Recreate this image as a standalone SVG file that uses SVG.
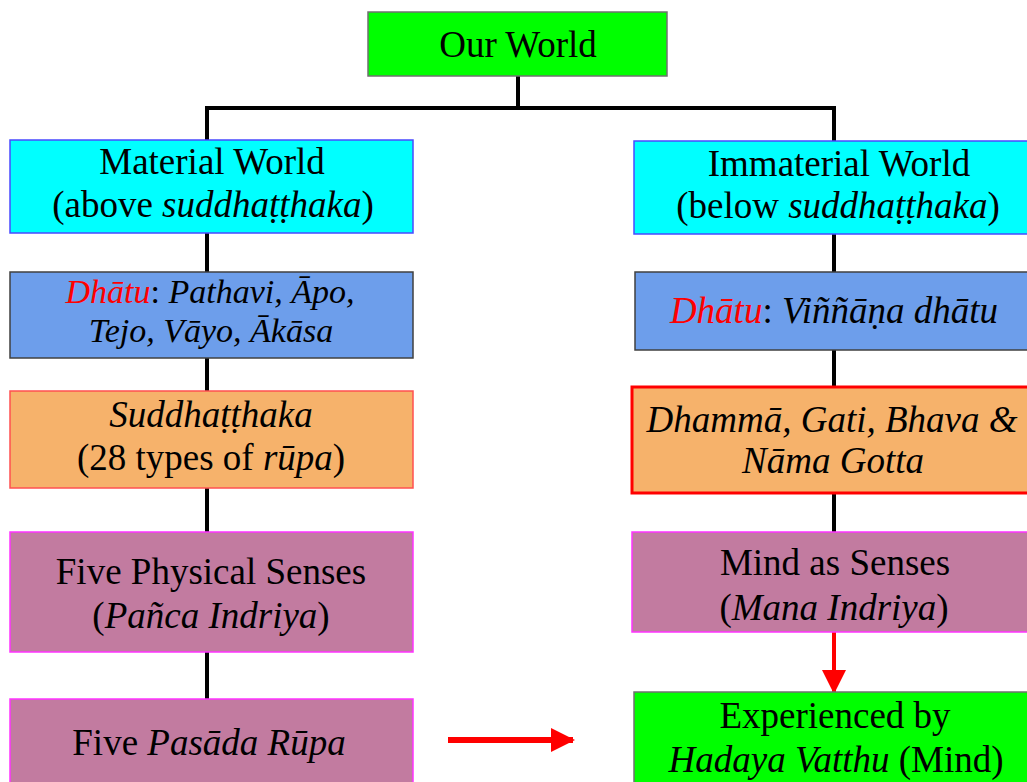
<svg xmlns="http://www.w3.org/2000/svg" width="1027" height="782" viewBox="0 0 1027 782">
<style>
text{font-family:"Liberation Serif","Times New Roman",Times,Tinos,"Noto Serif","DejaVu Serif",FreeSerif,serif;font-size:37px;fill:#000;text-anchor:middle}
.i{font-style:italic}
.r{fill:#ff0000}
.green{fill:#00ff00;stroke:#707070;stroke-width:1.5}
.cyan{fill:#00ffff;stroke:#4a4aff;stroke-width:1.5}
.blue{fill:#6d9eeb;stroke:#404040;stroke-width:1.5}
.orange{fill:#f6b26b;stroke:#ff5050;stroke-width:1.5}
.orange2{fill:#f6b26b;stroke:#ff0000;stroke-width:3}
.mauve{fill:#c27ba0;stroke:#ff33ff;stroke-width:1.5}
.conn{stroke:#000;stroke-width:4;fill:none}
.red{stroke:#ff0000;fill:none}
.tight{font-size:34px}
</style>
<defs>
<marker id="ah" markerUnits="userSpaceOnUse" markerWidth="24" markerHeight="24" refX="22" refY="12" orient="auto">
<path d="M0,0 L24,12 L0,24 Z" fill="#ff0000"/>
</marker>
</defs>
<g id="connectors">
<path class="conn" d="M207,140 V108 H834 V141" stroke-linejoin="miter"/>
<line class="conn" x1="518" y1="76" x2="518" y2="108"/>
<line class="conn" x1="207" y1="233" x2="207" y2="272"/>
<line class="conn" x1="207" y1="358" x2="207" y2="391"/>
<line class="conn" x1="207" y1="488" x2="207" y2="532"/>
<line class="conn" x1="207" y1="652" x2="207" y2="699"/>
<line class="conn" x1="834" y1="234" x2="834" y2="272"/>
<line class="conn" x1="834" y1="350" x2="834" y2="387"/>
<line class="conn" x1="834" y1="493" x2="834" y2="532"/>
<line class="red" stroke-width="4" x1="834" y1="632" x2="834" y2="692" marker-end="url(#ah)"/>
<line class="red" stroke-width="6" x1="448" y1="740" x2="573" y2="740" marker-end="url(#ah)"/>
</g>
<g id="our-world">
<rect class="green" x="368" y="12" width="299" height="64"/>
<text x="518" y="57">Our World</text>
</g>
<g id="material-world">
<rect class="cyan" x="10" y="140" width="403" height="93"/>
<text x="212" y="174">Material World</text>
<text x="213" y="217">(above <tspan class="i">suddhaṭṭhaka</tspan>)</text>
</g>
<g id="immaterial-world">
<rect class="cyan" x="634" y="141" width="400" height="93"/>
<text x="839" y="176">Immaterial World</text>
<text x="838" y="218">(below <tspan class="i">suddhaṭṭhaka</tspan>)</text>
</g>
<g id="dhatu-left">
<rect class="blue" x="10" y="272" width="403" height="86"/>
<text class="tight" x="210" y="303"><tspan class="i r">Dhātu</tspan>: <tspan class="i">Pathavi, Āpo,</tspan></text>
<text class="i tight" x="211" y="342">Tejo, Vāyo, Ākāsa</text>
</g>
<g id="dhatu-right">
<rect class="blue" x="635" y="272" width="400" height="78"/>
<text x="834" y="323"><tspan class="i r">Dhātu</tspan>: <tspan class="i">Viññāṇa dhātu</tspan></text>
</g>
<g id="suddhatthaka">
<rect class="orange" x="10" y="391" width="403" height="97"/>
<text class="i" x="211" y="427">Suddhaṭṭhaka</text>
<text x="211" y="470">(28 types of <tspan class="i">rūpa</tspan>)</text>
</g>
<g id="dhamma">
<rect class="orange2" x="632" y="387" width="400" height="106"/>
<text class="i" x="832" y="432">Dhammā, Gati, Bhava &amp;</text>
<text class="i" x="833" y="473">Nāma Gotta</text>
</g>
<g id="physical-senses">
<rect class="mauve" x="10" y="532" width="403" height="120"/>
<text x="211" y="584">Five Physical Senses</text>
<text x="211" y="628">(<tspan class="i">Pañca Indriya</tspan>)</text>
</g>
<g id="mind-senses">
<rect class="mauve" x="632" y="532" width="400" height="100"/>
<text x="835" y="575">Mind as Senses</text>
<text x="834" y="620">(<tspan class="i">Mana Indriya</tspan>)</text>
</g>
<g id="pasada-rupa">
<rect class="mauve" x="10" y="699" width="403" height="90"/>
<text x="209" y="755">Five <tspan class="i">Pasāda Rūpa</tspan></text>
</g>
<g id="experienced">
<rect class="green" x="634" y="692" width="400" height="100"/>
<text x="835" y="728">Experienced by</text>
<text x="836" y="772"><tspan class="i">Hadaya Vatthu</tspan> (Mind)</text>
</g>
</svg>
